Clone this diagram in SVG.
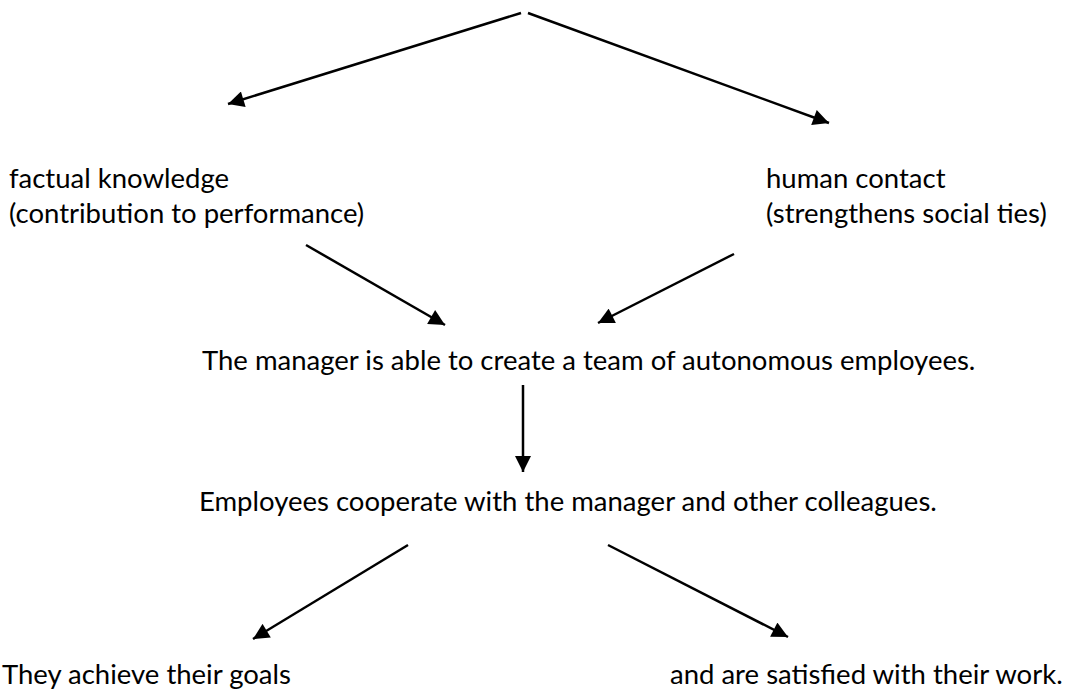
<svg xmlns="http://www.w3.org/2000/svg" width="1065" height="695" viewBox="0 0 1065 695">
  <style>
    text { font-family: Lato, "Open Sans", "Liberation Sans", sans-serif; font-size: 27.5px; fill: #000; }
    .edge { stroke: #000; stroke-width: 2.5; fill: none; marker-end: url(#arrow); }
  </style>
  <defs>
    <marker id="arrow" viewBox="0 0 10 10" refX="10" refY="5" markerWidth="7" markerHeight="6.4" markerUnits="strokeWidth" orient="auto">
      <path d="M0,0 L10,5 L0,10 Z" fill="#000"/>
    </marker>
  </defs>
  <rect width="1065" height="695" fill="#fff"/>

  <g id="connectors">
    <line class="edge" x1="521" y1="13" x2="228" y2="104"/>
    <line class="edge" x1="528" y1="13" x2="829" y2="123"/>
    <line class="edge" x1="306" y1="245" x2="445" y2="325"/>
    <line class="edge" x1="734" y1="254" x2="598" y2="323"/>
    <line class="edge" x1="523" y1="385" x2="523" y2="472"/>
    <line class="edge" x1="408" y1="545" x2="253" y2="639"/>
    <line class="edge" x1="608" y1="545" x2="788" y2="637"/>
  </g>

  <g id="factual">
    <text x="9" y="188">factual knowledge</text>
    <text x="9" y="223">(contribution to performance)</text>
  </g>
  <g id="human">
    <text x="766" y="188">human contact</text>
    <text x="766" y="223">(strengthens social ties)</text>
  </g>
  <g id="team">
    <text x="202" y="370">The manager is able to create a team of autonomous employees.</text>
  </g>
  <g id="cooperate">
    <text x="199" y="511">Employees cooperate with the manager and other colleagues.</text>
  </g>
  <g id="goals">
    <text x="2" y="684">They achieve their goals</text>
  </g>
  <g id="satisfied">
    <text x="670" y="684">and are satisfied with their work.</text>
  </g>
</svg>
